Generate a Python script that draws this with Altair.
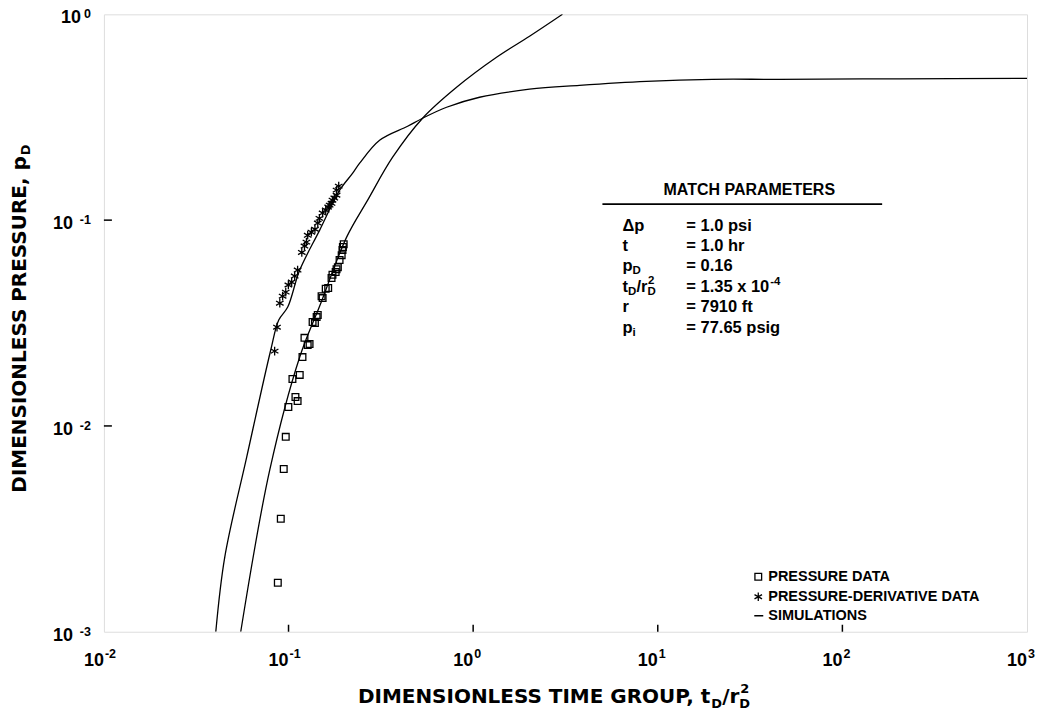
import altair as alt
import pandas as pd

# ---------------- data ----------------
# simulated pressure-derivative curve
sim_deriv_x = [0.04037, 0.04517, 0.05939, 0.08012, 0.08851, 0.09901, 0.1150, 0.1475, 0.1893, 0.2226,
               0.2428, 0.3114, 0.4416, 0.5324, 0.7180, 1.083, 2.020, 3.766, 8.677, 19.75, 45.50, 203.0, 1000]
sim_deriv_y = [0.001, 0.002312, 0.007071, 0.02338, 0.03270, 0.03781, 0.05718, 0.08943, 0.1398, 0.1691,
               0.1891, 0.2445, 0.2860, 0.3128, 0.3536, 0.3955, 0.4326, 0.4520, 0.4728, 0.4834, 0.4834, 0.4862, 0.4889]
# simulated pressure curve
sim_press_x = [0.05510, 0.07913, 0.1150, 0.1475, 0.2064, 0.2683, 0.3664, 0.5324, 0.8133, 1.339, 2.020, 3.046]
sim_press_y = [0.001, 0.006114, 0.02163, 0.03824, 0.08270, 0.1251, 0.2022, 0.3128, 0.4420, 0.6182, 0.7820, 1.0]

# pressure data (squares)
press_x = [0.0875, 0.0908, 0.0942, 0.0966, 0.0998, 0.109, 0.112, 0.105, 0.115, 0.119, 0.127, 0.130,
           0.122, 0.135, 0.142, 0.144, 0.139, 0.153, 0.159, 0.151, 0.164, 0.171, 0.173, 0.180, 0.182,
           0.185, 0.189, 0.194, 0.196, 0.199, 0.197]
press_y = [0.00173, 0.00354, 0.00618, 0.00885, 0.01237, 0.01383, 0.0132, 0.0169, 0.0177, 0.0216, 0.0247,
           0.0250, 0.0268, 0.0320, 0.0338, 0.0346, 0.0316, 0.0418, 0.0464, 0.0427, 0.0468, 0.0523, 0.0543,
           0.0560, 0.0578, 0.0591, 0.0640, 0.0676, 0.0715, 0.0764, 0.0740]

# pressure-derivative data (asterisks)
deriv_x = [0.0841, 0.0866, 0.0897, 0.0929, 0.0966, 0.0998, 0.104, 0.108, 0.112, 0.118, 0.122, 0.125,
           0.127, 0.133, 0.139, 0.144, 0.147, 0.153, 0.159, 0.164, 0.171, 0.173, 0.177, 0.182, 0.187,
           0.182, 0.167]
deriv_y = [0.0231, 0.0302, 0.0395, 0.0427, 0.0447, 0.0484, 0.0500, 0.0535, 0.0572, 0.0697, 0.0748, 0.0782,
           0.0844, 0.0874, 0.0903, 0.0968, 0.1020, 0.1082, 0.1119, 0.1158, 0.1207, 0.1250, 0.1280, 0.1321,
           0.1463, 0.1399, 0.1183]

x_tick_vals = [0.01, 0.1, 1, 10, 100, 1000]
x_tick_exps = ["-2", "-1", "0", "1", "2", "3"]
y_tick_vals = [0.001, 0.01, 0.1, 1]
y_tick_exps = ["-3", "-2", "-1", "0"]
x_inner_ticks = [0.1, 1, 10, 100]
y_inner_ticks = [0.01, 0.1]

param_names = ["\u0394p", "t", "p", "t", "r", "p"]
param_values = ["= 1.0 psi", "= 1.0 hr", "= 0.16", "= 1.35 x 10", "= 7910 ft", "= 77.65 psig"]
legend_labels = ["PRESSURE DATA", "PRESSURE-DERIVATIVE DATA", "SIMULATIONS"]

# ---------------- chart ----------------
W, H = 924, 618
FONT = "Liberation Sans"
TFONT = "DejaVu Sans"
xs = alt.Scale(type="log", domain=[0.01, 1000])
ys = alt.Scale(type="log", domain=[0.001, 1])
ASTER = "M0,-1L0,1M-0.87,-0.5L0.87,0.5M-0.87,0.5L0.87,-0.5"

sim = pd.concat([
    pd.DataFrame({"x": sim_deriv_x, "y": sim_deriv_y, "s": "deriv"}),
    pd.DataFrame({"x": sim_press_x, "y": sim_press_y, "s": "press"}),
])
lines = alt.Chart(sim).mark_line(color="black", strokeWidth=1.3, clip=True, interpolate="catmull-rom").encode(
    x=alt.X("x:Q", scale=xs, axis=None),
    y=alt.Y("y:Q", scale=ys, axis=None),
    detail="s:N",
)

squares = alt.Chart(pd.DataFrame({"x": press_x, "y": press_y})).mark_point(
    shape="square", filled=False, size=45, strokeWidth=1.3, color="black", opacity=1
).encode(x=alt.X("x:Q", scale=xs, axis=None), y=alt.Y("y:Q", scale=ys, axis=None))

stars = alt.Chart(pd.DataFrame({"x": deriv_x, "y": deriv_y})).mark_point(
    shape=ASTER, filled=False, size=75, strokeWidth=1.3, color="black", opacity=1
).encode(x=alt.X("x:Q", scale=xs, axis=None), y=alt.Y("y:Q", scale=ys, axis=None))

# inner ticks
xt = alt.Chart(pd.DataFrame({"v": x_inner_ticks})).mark_rule(color="black", strokeWidth=1.5).encode(
    x=alt.X("v:Q", scale=xs, axis=None), y=alt.value(H), y2=alt.value(H - 7))
yt = alt.Chart(pd.DataFrame({"v": y_inner_ticks})).mark_rule(color="black", strokeWidth=1.5).encode(
    y=alt.Y("v:Q", scale=ys, axis=None), x=alt.value(0), x2=alt.value(8))

# tick labels
xlab_df = pd.DataFrame({"v": x_tick_vals, "e": x_tick_exps})
xlab10 = alt.Chart(xlab_df).mark_text(font=FONT, fontWeight="bold", fontSize=18, align="right",
                                      baseline="alphabetic").encode(
    x=alt.X("v:Q", scale=xs, axis=None), y=alt.value(H + 34), text=alt.value("10"))
xlabe = alt.Chart(xlab_df).mark_text(font=FONT, fontWeight="bold", fontSize=12.5, align="left",
                                     baseline="alphabetic", dx=1).encode(
    x=alt.X("v:Q", scale=xs, axis=None), y=alt.value(H + 26), text="e:N")

ylab_df = pd.DataFrame({"v": y_tick_vals, "e": y_tick_exps})
ylabe = alt.Chart(ylab_df).mark_text(font=FONT, fontWeight="bold", fontSize=12.5, align="right",
                                     baseline="alphabetic", dy=4).encode(
    y=alt.Y("v:Q", scale=ys, axis=None), x=alt.value(-13), text="e:N")
ylab10 = alt.Chart(ylab_df).transform_calculate(
    px="length(datum.e) > 1 ? -31 : -23"
).mark_text(font=FONT, fontWeight="bold", fontSize=18, align="right", baseline="alphabetic", dy=9).encode(
    y=alt.Y("v:Q", scale=ys, axis=None), x=alt.X("px:Q", scale=None), text=alt.value("10"))


def txt(s, x, y, size=14, align="left", angle=0, baseline="middle", font=FONT):
    return alt.Chart(pd.DataFrame({"t": [s]})).mark_text(
        font=font, fontWeight="bold", fontSize=size, align=align, baseline=baseline, angle=angle,
        color="black").encode(x=alt.value(x), y=alt.value(y), text="t:N")


layers = [lines, squares, stars, xt, yt, xlab10, xlabe, ylab10, ylabe]

# axis titles
XT0 = 607
layers += [
    txt("DIMENSIONLESS TIME GROUP, t", XT0, 689, 20, align="right", baseline="alphabetic", font=TFONT),
    txt("D", XT0 + 1, 694, 13, baseline="alphabetic", font=TFONT),
    txt("/r", XT0 + 12, 689, 20, baseline="alphabetic", font=TFONT),
    txt("D", XT0 + 29, 694, 13, baseline="alphabetic", font=TFONT),
    txt("2", XT0 + 30, 679, 13, baseline="alphabetic", font=TFONT),
]
YT0 = 142
layers += [
    txt("DIMENSIONLESS PRESSURE, p", -84, YT0, 20, align="right", angle=270, baseline="middle", font=TFONT),
    txt("D", -78, YT0 - 1, 13, align="left", angle=270, baseline="middle", font=TFONT),
]

# match parameters box
PX0, VX0 = 519, 583
MS = 16.5
layers += [
    txt("MATCH PARAMETERS", 646, 176, 16, align="center"),
    alt.Chart(pd.DataFrame({"a": [0]})).mark_rule(color="black", strokeWidth=1.8).encode(
        x=alt.value(499), x2=alt.value(779), y=alt.value(190)),
]
rows_y = [212, 232, 252, 273, 293, 314]
for name, val, ry in zip(param_names, param_values, rows_y):
    layers.append(txt(name, PX0, ry, MS))
    layers.append(txt(val, VX0, ry, MS))
layers += [
    txt("D", PX0 + 10, rows_y[2] + 5, 11.5),
    txt("D", PX0 + 5.5, rows_y[3] + 5, 11.5),
    txt("/r", PX0 + 14, rows_y[3], MS),
    txt("D", PX0 + 25, rows_y[3] + 5, 11.5),
    txt("2", PX0 + 25.5, rows_y[3] - 6, 11.5),
    txt("-4", VX0 + 84, rows_y[3] - 5, 11.5),
    txt("i", PX0 + 10, rows_y[5] + 5, 11.5),
]

# legend
leg_y = [563, 583, 602]
LX = 655
layers += [
    alt.Chart(pd.DataFrame({"a": [0]})).mark_point(shape="square", filled=False, size=45, strokeWidth=1.3,
                                                    color="black", opacity=1).encode(
        x=alt.value(LX), y=alt.value(leg_y[0])),
    alt.Chart(pd.DataFrame({"a": [0]})).mark_point(shape=ASTER, filled=False, size=75, strokeWidth=1.3,
                                                    color="black", opacity=1).encode(
        x=alt.value(LX), y=alt.value(leg_y[1])),
    alt.Chart(pd.DataFrame({"a": [0]})).mark_rule(color="black", strokeWidth=1.5).encode(
        x=alt.value(LX - 4), x2=alt.value(LX + 5), y=alt.value(leg_y[2])),
]
for lab, ly in zip(legend_labels, leg_y):
    layers.append(txt(lab, LX + 10, ly, 14.5))

chart = alt.layer(*layers).properties(
    width=W, height=H,
    autosize=alt.AutoSizeParams(type="none"),
    padding={"left": 96, "top": 6, "right": 12, "bottom": 82},
).configure_view(stroke="black", strokeWidth=2).configure(background="white")

chart.save("out.html", embed_options={"renderer": "svg", "actions": False})
